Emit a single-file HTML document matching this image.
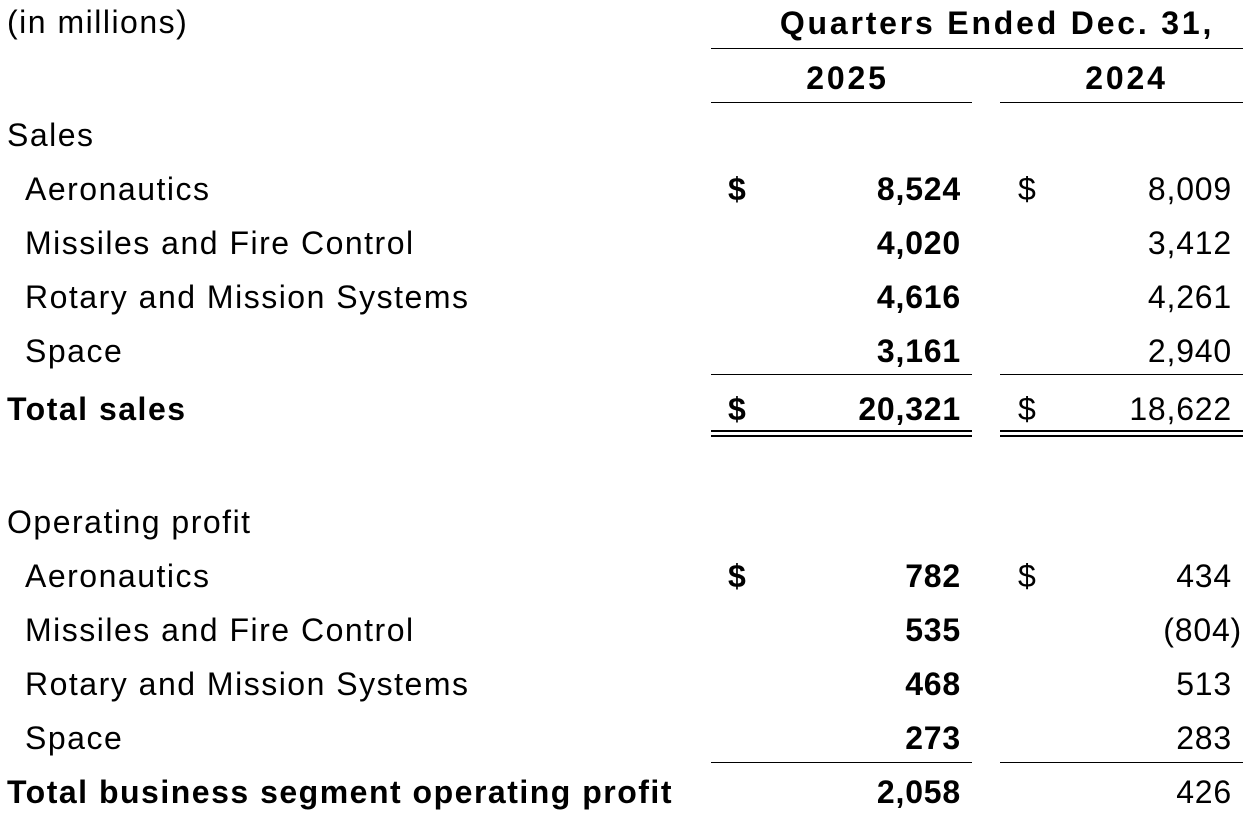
<!DOCTYPE html>
<html><head><meta charset="utf-8">
<style>
body{margin:0;width:1248px;height:822px;background:#fff;position:relative;overflow:hidden;font-family:"Liberation Sans",sans-serif;color:#000;}
.t{position:absolute;font-size:32px;line-height:40px;white-space:nowrap;letter-spacing:1.5px;}
.b{font-weight:bold;}
.h{letter-spacing:2.8px;}
.r{text-align:right;letter-spacing:0.8px;}
.l{position:absolute;height:1px;background:#000;}
</style></head><body>
<div class="t" style="left:7px;top:2px;">(in millions)</div>
<div class="t b h" style="left:731px;width:532px;text-align:center;top:3px;">Quarters Ended Dec. 31,</div>
<div class="l" style="left:711px;width:532px;top:48px;"></div>
<div class="t b h" style="left:717px;width:261px;text-align:center;top:58px;">2025</div>
<div class="t b h" style="left:1005px;width:243px;text-align:center;top:58px;">2024</div>
<div class="l" style="left:711px;width:261px;top:102px;"></div>
<div class="l" style="left:1000px;width:243px;top:102px;"></div>

<div class="t" style="left:7px;top:115px;">Sales</div>
<div class="t" style="left:25px;top:169px;">Aeronautics</div>
<div class="t" style="left:25px;top:223px;">Missiles and Fire Control</div>
<div class="t" style="left:25px;top:277px;">Rotary and Mission Systems</div>
<div class="t" style="left:25px;top:331px;">Space</div>
<div class="t b" style="left:7px;top:389px;">Total sales</div>

<div class="t b" style="left:728px;top:169px;">$</div>
<div class="t" style="left:1018px;top:169px;">$</div>
<div class="t b" style="left:728px;top:389px;">$</div>
<div class="t" style="left:1018px;top:389px;">$</div>

<div class="t b r" style="right:287px;top:169px;">8,524</div>
<div class="t b r" style="right:287px;top:223px;">4,020</div>
<div class="t b r" style="right:287px;top:277px;">4,616</div>
<div class="t b r" style="right:287px;top:331px;">3,161</div>
<div class="t b r" style="right:287px;top:389px;">20,321</div>
<div class="t r" style="right:16px;top:169px;">8,009</div>
<div class="t r" style="right:16px;top:223px;">3,412</div>
<div class="t r" style="right:16px;top:277px;">4,261</div>
<div class="t r" style="right:16px;top:331px;">2,940</div>
<div class="t r" style="right:16px;top:389px;">18,622</div>

<div class="l" style="left:711px;width:261px;top:374px;"></div>
<div class="l" style="left:1000px;width:243px;top:374px;"></div>
<div class="l" style="left:711px;width:261px;top:430px;height:2px;"></div>
<div class="l" style="left:1000px;width:243px;top:430px;height:2px;"></div>
<div class="l" style="left:711px;width:261px;top:435px;height:2px;"></div>
<div class="l" style="left:1000px;width:243px;top:435px;height:2px;"></div>

<div class="t" style="left:7px;top:502px;">Operating profit</div>
<div class="t" style="left:25px;top:556px;">Aeronautics</div>
<div class="t" style="left:25px;top:610px;">Missiles and Fire Control</div>
<div class="t" style="left:25px;top:664px;">Rotary and Mission Systems</div>
<div class="t" style="left:25px;top:718px;">Space</div>
<div class="t b" style="left:7px;top:772px;">Total business segment operating profit</div>

<div class="t b" style="left:728px;top:556px;">$</div>
<div class="t" style="left:1018px;top:556px;">$</div>

<div class="t b r" style="right:287px;top:556px;">782</div>
<div class="t b r" style="right:287px;top:610px;">535</div>
<div class="t b r" style="right:287px;top:664px;">468</div>
<div class="t b r" style="right:287px;top:718px;">273</div>
<div class="t b r" style="right:287px;top:772px;">2,058</div>
<div class="t r" style="right:16px;top:556px;">434</div>
<div class="t r" style="right:6px;top:610px;">(804)</div>
<div class="t r" style="right:16px;top:664px;">513</div>
<div class="t r" style="right:16px;top:718px;">283</div>
<div class="t r" style="right:16px;top:772px;">426</div>

<div class="l" style="left:711px;width:261px;top:762px;"></div>
<div class="l" style="left:1000px;width:243px;top:762px;"></div>
</body></html>
